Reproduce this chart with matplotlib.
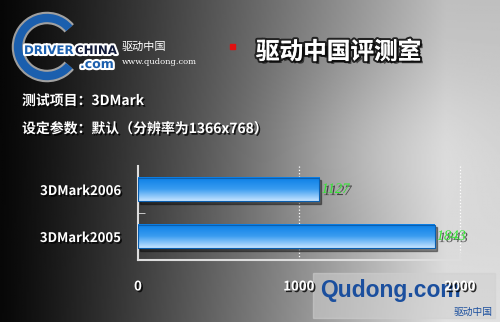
import numpy as np
import matplotlib.pyplot as plt
import matplotlib.patheffects as pe
from matplotlib.patches import Arc, Rectangle
from matplotlib.colors import LinearSegmentedColormap

plt.rcParams['font.family'] = ['Noto Sans CJK SC', 'DejaVu Sans']

categories = ['3DMark2005', '3DMark2006']
scores = [1843, 1127]
xticks = [0, 1000, 2000]
test_item = '测试项目：3DMark'
settings = '设定参数：默认（分辨率为1366x768）'
title = '驱动中国评测室'

fig = plt.figure(figsize=(5, 3.22), dpi=100)

# background gradient: black on the left to light grey on the right
bg = fig.add_axes([0, 0, 1, 1])
xx = np.linspace(0, 1, 300)
yy = np.linspace(0, 1, 200)
X, Y = np.meshgrid(xx, yy)
val = 0.03 + 0.85 * np.clip(X * 1.12, 0, 1) ** 1.15
val = val + 0.08 * np.exp(-((X - 0.75) ** 2) / 0.05 - ((Y - 0.45) ** 2) / 0.05)
val = val * (0.85 + 0.15 * Y)
bg.imshow(np.clip(val, 0, 1), cmap='gray', vmin=0, vmax=1, aspect='auto',
          extent=[0, 500, 0, 322], origin='lower')
bg.set_xlim(0, 500)
bg.set_ylim(322, 0)
bg.axis('off')

shadow = [pe.withSimplePatchShadow(offset=(1.2, -1.2), shadow_rgbFace='black', alpha=0.8)]
big_shadow = [pe.Stroke(linewidth=3, foreground='#222222'), pe.Normal(),
              pe.withSimplePatchShadow(offset=(2, -2), shadow_rgbFace='black', alpha=0.6)]
glow = [pe.Stroke(linewidth=3, foreground='white'), pe.Normal()]

# logo
bg.add_patch(Arc((47, 47), 58, 58, theta1=40, theta2=320, lw=9, color='white', alpha=0.6))
bg.add_patch(Arc((47, 47), 58, 58, theta1=40, theta2=320, lw=6, color='#1b5fae'))
bg.text(24, 54, 'DRIVER', color='#1b5fae', fontsize=8.5, fontweight='bold',
        family='DejaVu Sans', path_effects=glow)
bg.text(75, 54, 'CHINA', color='#111a3a', fontsize=8.5, fontweight='bold',
        family='DejaVu Sans', path_effects=glow)
bg.text(80, 68, '.com', color='#1b5fae', fontsize=9, fontweight='bold',
        family='DejaVu Sans', path_effects=glow)
bg.text(122, 50, '驱动中国', color='white', fontsize=8)
bg.text(122, 64, 'www.qudong.com', color='white', fontsize=6, family='DejaVu Serif')
bg.add_patch(Rectangle((230, 44), 5, 5, color='#e01010'))
bg.text(256, 52, title, color='white', fontsize=17, fontweight='bold', va='center',
        path_effects=big_shadow)

bg.text(22, 101, test_item, color='white', fontsize=10, fontweight='bold', va='center',
        path_effects=shadow)
bg.text(22, 129, settings, color='white', fontsize=10, fontweight='bold', va='center',
        path_effects=shadow)

# chart
ax = fig.add_axes([138 / 500, 1 - 260 / 322, 322 / 500, 94 / 322])
ax.patch.set_alpha(0)
ypos = np.arange(len(categories))
bars = ax.barh(ypos, scores, height=0.51, color='none', zorder=3)
grad = np.linspace(0, 1, 50).reshape(-1, 1)
bcmap = LinearSegmentedColormap.from_list('b', ['#0a7fe6', '#3a9cf0', '#c4e3ff'])
for b in bars:
    x0, y0, w, h = b.get_x(), b.get_y(), b.get_width(), b.get_height()
    ax.add_patch(Rectangle((x0 + 12, y0 - 0.05), w, h, color='black', alpha=0.4, zorder=2))
    ax.imshow(grad, cmap=bcmap, aspect='auto', extent=[x0, x0 + w, y0, y0 + h],
              origin='upper', zorder=3)
    ax.add_patch(Rectangle((x0, y0), w, h, fill=False, ec='#0a5fb0', lw=0.8, zorder=4))
for y, v in zip(ypos, scores):
    ax.text(v + 12, y, str(v), color='#33e633', fontsize=10.5, style='italic',
            family='Liberation Serif', va='center', zorder=5,
            path_effects=[pe.withSimplePatchShadow(offset=(1.5, -1.5),
                                                   shadow_rgbFace='black', alpha=0.6)])

ax.set_xlim(0, 2000)
ax.set_ylim(-0.5, 1.5)
ax.set_xticks(xticks)
ax.set_xticklabels([str(t) for t in xticks])
ax.set_yticks(ypos)
ax.set_yticklabels(categories)
ax.set_yticks([0.5], minor=True)
ax.tick_params(axis='y', which='major', length=0, pad=12, labelcolor='white', labelsize=9.5)
ax.tick_params(axis='y', which='minor', length=5, direction='in', color='#dddddd')
ax.tick_params(axis='x', length=0, pad=14, labelcolor='white', labelsize=9.5)
for lab in ax.get_yticklabels() + ax.get_xticklabels():
    lab.set_fontweight('bold')
    lab.set_path_effects(shadow)
# dotted grid lines at 1000 and 2000
for t in xticks[1:]:
    ax.axvline(t, color='white', linestyle=':', lw=0.9, zorder=1, clip_on=False)
ax.plot([2000, 2000], [-0.5, -0.38], color='#dddddd', lw=1.5, clip_on=False)
for s in ['top', 'right']:
    ax.spines[s].set_visible(False)
for s in ['left', 'bottom']:
    ax.spines[s].set_color('#dddddd')
    ax.spines[s].set_linewidth(1.5)

# watermark
bg.add_patch(Rectangle((313, 273), 182, 45, color='#d0d0d0', alpha=0.55, zorder=5))
bg.text(320, 302, 'Qudong.com', color='#1b4f9e', fontsize=16.5, fontweight='bold',
        family='Liberation Sans', va='bottom', zorder=6)
bg.text(493, 317, '驱动中国', color='#1b4f9e', fontsize=7, ha='right', va='bottom', zorder=6)

fig.savefig('out.png', dpi=100)
